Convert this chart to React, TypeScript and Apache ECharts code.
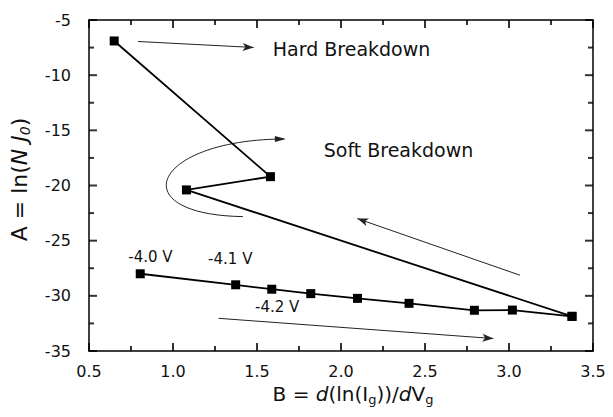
import React, { useEffect, useRef } from "react";
import * as echarts from "echarts";

// ---- data ----
const upperB = [0.65, 1.58, 1.08, 3.375];
const upperA = [-6.9, -19.2, -20.4, -31.86];
const lowerB = [0.805, 1.373, 1.588, 1.82, 2.098, 2.405, 2.794, 3.02, 3.375];
const lowerA = [-28.0, -29.0, -29.4, -29.8, -30.23, -30.68, -31.31, -31.29, -31.86];
const regionLabels = ["Hard Breakdown", "Soft Breakdown"];
const voltageLabels = ["-4.0 V", "-4.1 V", "-4.2 V"];

// tick positions
const xMajorTicks = [0.5, 1.0, 1.5, 2.0, 2.5, 3.0, 3.5];
const xMinorTicks = [0.75, 1.25, 1.75, 2.25, 2.75, 3.25];
const yMajorTicks = [-35, -30, -25, -20, -15, -10, -5];
const yMinorTicks = [-32.5, -27.5, -22.5, -17.5, -12.5, -7.5];

// annotation anchors in data coordinates [B, A]
const regionAnchors = [
  [1.594, -7.65],
  [1.897, -16.77],
];
const voltageAnchors = [
  [0.734, -26.5],
  [1.209, -26.7],
  [1.488, -31.0],
];
const straightArrows = [
  [[0.792, -6.95], [1.48, -7.49]],
  [[3.065, -28.13], [2.097, -23.0]],
  [[1.272, -32.04], [2.907, -33.87]],
];
const curvedArrow = [
  [1.416, -22.82],
  [0.693, -22.64],
  [0.871, -15.87],
  [1.66, -15.78],
];

const FONT = "'DejaVu Sans', 'Liberation Sans', Arial, sans-serif";
const X_MIN = 0.5, X_MAX = 3.5, Y_MIN = -35, Y_MAX = -5;

function tickSeries(points: number[][], size: number[], offset: number[]) {
  return {
    type: "scatter",
    data: points,
    symbol: "rect",
    symbolSize: size,
    symbolOffset: offset,
    itemStyle: { color: "#000" },
    clip: false,
    silent: true,
    z: 4,
  };
}

export default function App() {
  const ref = useRef<HTMLDivElement>(null);
  useEffect(() => {
    if (!ref.current) return;
    const chart = echarts.init(ref.current, undefined, { renderer: "svg" });
    const richSub = { fontSize: 13, fontFamily: FONT, color: "#111", lineHeight: 12, verticalAlign: "bottom" };
    const richSubI = { fontSize: 14, fontFamily: FONT, color: "#111", lineHeight: 12, verticalAlign: "bottom", fontStyle: "italic" };
    const richI = { fontSize: 20, fontFamily: FONT, color: "#111", fontStyle: "italic", lineHeight: 24 };
    const richN = { fontSize: 20, fontFamily: FONT, color: "#111", lineHeight: 24 };
    const richIY = { ...richI, fontSize: 22, lineHeight: 26 };
    const richNY = { ...richN, fontSize: 22, lineHeight: 26 };

    const axisLine = () => ({ show: true, lineStyle: { color: "#000", width: 1.5 } });

    const option: any = {
      animation: false,
      backgroundColor: "#fff",
      grid: { left: 88, right: 20, top: 20, bottom: 66 },
      xAxis: [
        {
          type: "value",
          position: "bottom",
          min: X_MIN,
          max: X_MAX,
          interval: 0.5,
          axisLine: axisLine(),
          axisTick: { show: false },
          splitLine: { show: false },
          axisLabel: {
            fontSize: 16,
            color: "#111",
            fontFamily: FONT,
            margin: 12,
            formatter: (v: number) => v.toFixed(1),
          },
          name: "{n|B = }{i|d}{n|(ln(I}{s|g}{n|))/}{i|d}{n|V}{s|g}",
          nameLocation: "middle",
          nameGap: 31,
          nameTextStyle: { padding: [0, 0, 0, 24], rich: { n: richN, i: richI, s: richSub } },
        },
        {
          type: "value",
          position: "top",
          min: X_MIN,
          max: X_MAX,
          interval: 0.5,
          axisLine: axisLine(),
          axisTick: { show: false },
          splitLine: { show: false },
          axisLabel: { show: false },
        },
      ],
      yAxis: [
        {
          type: "value",
          position: "left",
          min: Y_MIN,
          max: Y_MAX,
          interval: 5,
          axisLine: axisLine(),
          axisTick: { show: false },
          splitLine: { show: false },
          axisLabel: { fontSize: 16, color: "#111", fontFamily: FONT, margin: 18 },
          name: "{n|A = ln(}{i|N J}{s|0}{n|)}",
          nameLocation: "middle",
          nameGap: 57,
          nameTextStyle: { padding: [0, 0, 0, 12], rich: { n: richNY, i: richIY, s: richSubI } },
        },
        {
          type: "value",
          position: "right",
          min: Y_MIN,
          max: Y_MAX,
          interval: 5,
          axisLine: axisLine(),
          axisTick: { show: false },
          splitLine: { show: false },
          axisLabel: { show: false },
        },
      ],
      series: [
        {
          type: "line",
          data: upperB.map((b, i) => [b, upperA[i]]),
          symbol: "rect",
          symbolSize: 9,
          itemStyle: { color: "#000" },
          lineStyle: { color: "#000", width: 1.8 },
          z: 3,
        },
        {
          type: "line",
          data: lowerB.map((b, i) => [b, lowerA[i]]),
          symbol: "rect",
          symbolSize: 9,
          itemStyle: { color: "#000" },
          lineStyle: { color: "#000", width: 1.8 },
          z: 3,
          markLine: {
            silent: true,
            symbol: ["none", "arrow"],
            symbolSize: [6, 11],
            lineStyle: { color: "#222", width: 1, type: "solid" },
            label: { show: false },
            data: straightArrows.map(([a, b]) => [{ coord: a }, { coord: b }]),
          },
        },
        // inward ticks on all four sides, as thin rect symbols
        tickSeries(xMajorTicks.map((v) => [v, Y_MIN]), [2, 8], [0, -4]),
        tickSeries(xMajorTicks.map((v) => [v, Y_MAX]), [2, 8], [0, 4]),
        tickSeries(xMinorTicks.map((v) => [v, Y_MIN]), [2, 5], [0, -2.5]),
        tickSeries(xMinorTicks.map((v) => [v, Y_MAX]), [2, 5], [0, 2.5]),
        tickSeries(yMajorTicks.map((v) => [X_MIN, v]), [8, 2], [4, 0]),
        tickSeries(yMajorTicks.map((v) => [X_MAX, v]), [8, 2], [-4, 0]),
        tickSeries(yMinorTicks.map((v) => [X_MIN, v]), [5, 2], [2.5, 0]),
        tickSeries(yMinorTicks.map((v) => [X_MAX, v]), [5, 2], [-2.5, 0]),
      ],
    };
    chart.setOption(option);

    const px = (p: number[]) => chart.convertToPixel({ gridIndex: 0 }, p) as number[];
    const graphic: any[] = [];

    const c = curvedArrow.map(px);
    graphic.push(
      {
        type: "bezierCurve",
        shape: {
          x1: c[0][0], y1: c[0][1],
          cpx1: c[1][0], cpy1: c[1][1],
          cpx2: c[2][0], cpy2: c[2][1],
          x2: c[3][0], y2: c[3][1],
        },
        style: { stroke: "#222", lineWidth: 1, fill: null },
      },
      {
        type: "polygon",
        shape: { points: [[c[3][0] + 2, c[3][1]], [c[3][0] - 9, c[3][1] - 3], [c[3][0] - 9, c[3][1] + 3]] },
        style: { fill: "#222" },
      }
    );
    regionLabels.forEach((t, i) => {
      const p = px(regionAnchors[i]);
      graphic.push({
        type: "text",
        x: p[0],
        y: p[1],
        style: { text: t, fontSize: 19, fontFamily: FONT, fill: "#111", textAlign: "left", textVerticalAlign: "middle" },
      });
    });
    voltageLabels.forEach((t, i) => {
      const p = px(voltageAnchors[i]);
      graphic.push({
        type: "text",
        x: p[0],
        y: p[1],
        style: { text: t, fontSize: 15, fontFamily: FONT, fill: "#111", textAlign: "left", textVerticalAlign: "middle" },
      });
    });
    chart.setOption({ graphic });

    return () => chart.dispose();
  }, []);
  return (
    <div
      ref={ref}
      style={{ position: "fixed", left: 0, top: 0, width: 613, height: 417, background: "#fff" }}
    />
  );
}
